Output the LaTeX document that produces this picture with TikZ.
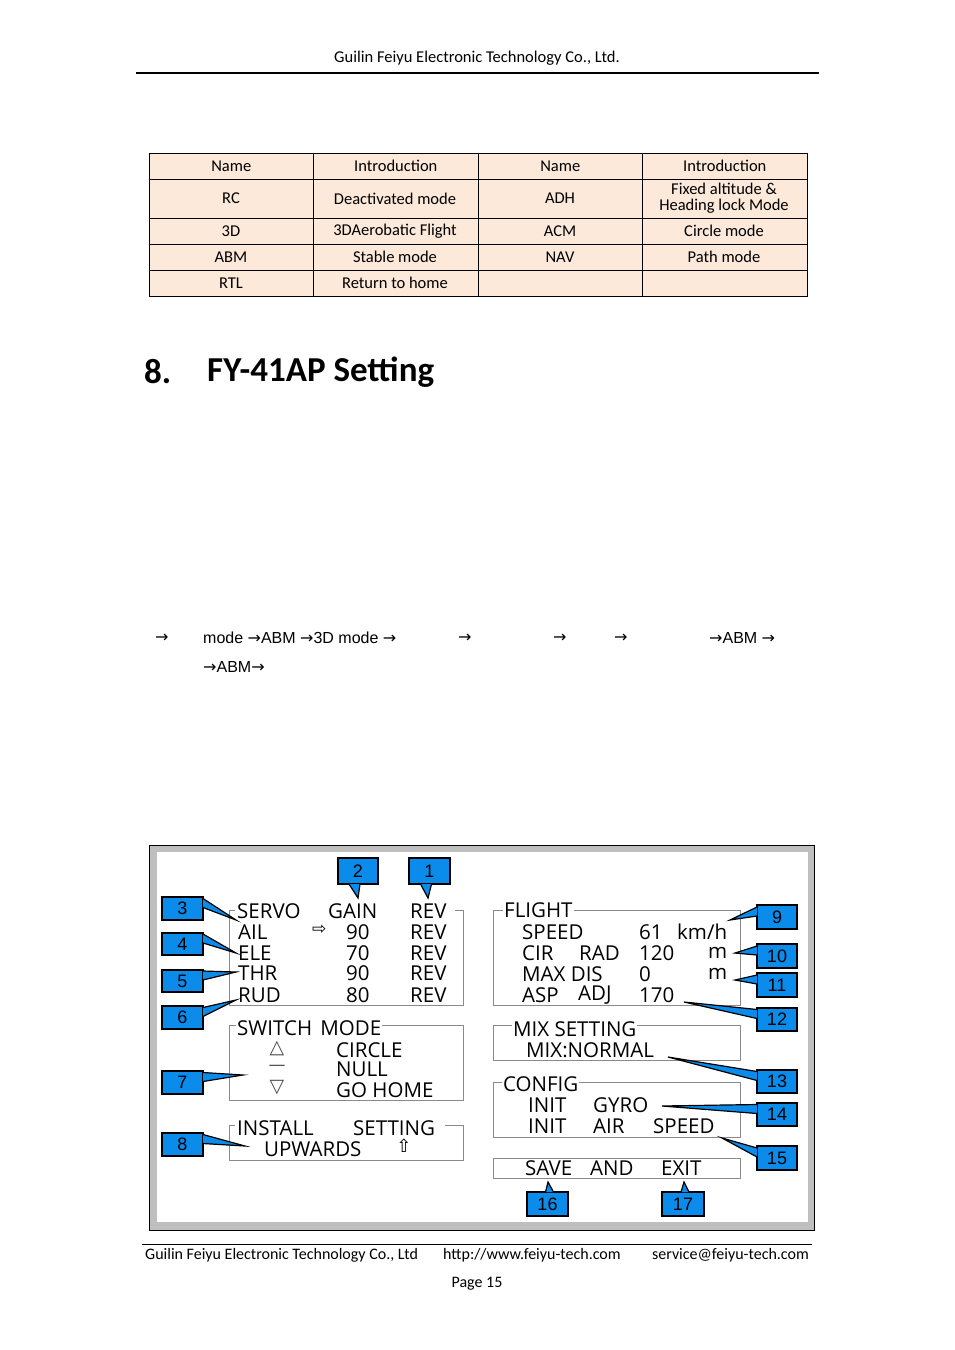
\documentclass[tikz,border=0pt]{standalone}
\usepackage{fontspec}
\setmainfont{Carlito}
\newfontfamily\lcdfont{Open Sans}
\newfontfamily\numfont{Liberation Sans}
\newfontfamily\symfont{DejaVu Sans}
\usetikzlibrary{calc}
\definecolor{peach}{HTML}{FCE9DA}
\definecolor{tagblue}{HTML}{0B8BEA}
\definecolor{framegray}{HTML}{8A8A8A}
\tikzstyle{none}=[inner sep=0pt]
\tikzstyle{txt}=[inner sep=0pt,anchor=west,font=\fontsize{16.5}{18}\selectfont]
\tikzstyle{cell}=[inner sep=0pt,align=center,font=\fontsize{16.5}{16}\selectfont]
\tikzstyle{lcd}=[inner sep=0pt,anchor=west,font=\lcdfont\fontsize{20.5}{20}\selectfont]
\tikzstyle{title}=[lcd,fill=white,inner xsep=1pt]
\tikzstyle{tag}=[draw=black,line width=1.6pt,fill=tagblue,inner sep=0pt,font=\numfont\fontsize{18}{18}\selectfont]
\tikzstyle{group}=[draw=framegray,line width=1pt]
% callout: name, x1,y1, x2,y2 of box, label
\newcommand\callout[6]{%
  \node [style=tag,minimum width=#4-#2,minimum height=#5-#3] (#1) at ({(#2+#4)/2},{(#3+#5)/2}) {#6};}
\newcommand\tagwedge[4]{%
  \filldraw[fill=tagblue,draw=black,line width=1.2pt] ($(#1)+(#2)$) -- (#4) -- ($(#1)+(#3)$);}
\newcommand\ar{{\symfont →}}
\begin{document}
\begin{tikzpicture}[x=1pt,y=-1pt]
	\useasboundingbox (0,0) rectangle (954,1350);
	% header
	\node [style=txt,anchor=center] (head) at (477,58) {Guilin Feiyu Electronic Technology Co., Ltd.};
	\draw[line width=1.6pt] (136,73) -- (819,73);
	% mode table
	\fill[peach] (149,153) rectangle (807,296);
	\draw[line width=0.8pt] (149,153) rectangle (807,296);
	\foreach \y in {179,218,244,270} \draw[line width=0.8pt] (149,\y) -- (807,\y);
	\foreach \x in {313,478,642} \draw[line width=0.8pt] (\x,153) -- (\x,296);
	\foreach \t [count=\i] in {Name,Introduction,Name,Introduction}
		\node [style=cell] (h\i) at ({149+164.5*(\i-0.5)},166) {\t};
	\node [style=cell] (c11) at (231,198.5) {RC};
	\node [style=cell] (c12) at (395,198.5) {Deactivated mode};
	\node [style=cell] (c13) at (560,198.5) {ADH};
	\node [style=cell] (c14) at (724,198.5) {Fixed altitude \&\\Heading lock Mode};
	\node [style=cell] (c21) at (231,231) {3D};
	\node [style=cell] (c22) at (395,231) {3DAerobatic Flight};
	\node [style=cell] (c23) at (560,231) {ACM};
	\node [style=cell] (c24) at (724,231) {Circle mode};
	\node [style=cell] (c31) at (231,257) {ABM};
	\node [style=cell] (c32) at (395,257) {Stable mode};
	\node [style=cell] (c33) at (560,257) {NAV};
	\node [style=cell] (c34) at (724,257) {Path mode};
	\node [style=cell] (c41) at (231,283) {RTL};
	\node [style=cell] (c42) at (395,283) {Return to home};
	% section title
	\node [style=txt,font=\bfseries\fontsize{35}{36}\selectfont] (secno) at (144,372) {8.};
	\node [style=txt,font=\bfseries\fontsize{35}{36}\selectfont] (sec) at (207,372) {FY-41AP Setting};
	% mode sequence line
	\begin{scope}[every node/.style={txt,font=\numfont\fontsize{16}{18}\selectfont}]
		\node (a1) at (155,638) {\ar};
		\node (a2) at (203,638) {mode \ar ABM \ar 3D mode \ar};
		\node (a3) at (458,638) {\ar};
		\node (a4) at (553,638) {\ar};
		\node (a5) at (614,638) {\ar};
		\node (a6) at (709,638) {\ar ABM \ar};
		\node (a7) at (203,667) {\ar ABM\ar};
	\end{scope}
	% LCD panel
	\filldraw[fill=black!25,draw=black,line width=0.8pt] (149,845) rectangle (814,1230);
	\fill[white] (157,852) rectangle (808,1222);
	\draw[group] (229,910) rectangle (463,1005);
	\draw[group] (229,1025) rectangle (463,1100);
	\draw[group] (229,1125) rectangle (463,1160);
	\draw[group] (493,910) rectangle (740,1005);
	\draw[group] (493,1025) rectangle (740,1060);
	\draw[group] (493,1082) rectangle (740,1137);
	\draw[group] (493,1158) rectangle (740,1178);
	\fill[white] (235,906) rectangle (455,914);
	\fill[white] (235,1121) rectangle (445,1129);
	% servo
	\node [style=title] (servo) at (236,911) {SERVO};
	\node [style=title] (gain) at (327,911) {GAIN};
	\node [style=title] (rev) at (409,911) {REV};
	\node [style=lcd] (ail) at (238,932) {AIL};
	\node [style=lcd] (ele) at (238,953) {ELE};
	\node [style=lcd] (thr) at (238,973) {THR};
	\node [style=lcd] (rud) at (238,995) {RUD};
	\node [style=lcd,font=\symfont\fontsize{17}{17}\selectfont] (ptr) at (312,930) {⇨};
	\foreach \v/\y [count=\i] in {90/932,70/953,90/973,80/995} {
		\node [style=lcd] (g\i) at (346,\y) {\v};
		\node [style=lcd] (r\i) at (410,\y) {REV};
	}
	% switch mode
	\node [style=title] (switch) at (236,1028) {SWITCH\hspace{0.4em}MODE};
	\node [style=lcd,anchor=center,font=\symfont\fontsize{19}{19}\selectfont,text=black!70] (up) at (277,1049) {△};
	\node [style=lcd,anchor=center,font=\symfont\fontsize{17}{17}\selectfont,text=black!70] (mid) at (277,1068) {—};
	\node [style=lcd,anchor=center,font=\symfont\fontsize{19}{19}\selectfont,text=black!70] (down) at (277,1088) {▽};
	\node [style=lcd] (circle) at (336,1050) {CIRCLE};
	\node [style=lcd] (null) at (336,1069) {NULL};
	\node [style=lcd] (gohome) at (336,1090) {GO HOME};
	% install
	\node [style=title] (install) at (236,1128) {INSTALL};
	\node [style=title] (setting) at (352,1128) {SETTING};
	\node [style=lcd] (upw) at (264,1149) {UPWARDS};
	\node [style=lcd,anchor=center,font=\symfont\fontsize{18}{18}\selectfont] (uparr) at (404,1146) {⇧};
	% flight
	\node [style=title] (flight) at (503,910) {FLIGHT};
	\node [style=lcd] (f1) at (522,932) {SPEED};
	\node [style=lcd] (f2) at (522,953) {CIR};
	\node [style=lcd] (f2b) at (579,953) {RAD};
	\node [style=lcd] (f3) at (522,974) {MAX DIS};
	\node [style=lcd] (f4) at (522,995) {ASP};
	\node [style=lcd] (f4b) at (578,995) {ADJ};
	\node [style=lcd] (v1) at (639,932) {61};
	\node [style=lcd] (v2) at (639,953) {120};
	\node [style=lcd] (v3) at (639,974) {0};
	\node [style=lcd] (v4) at (639,995) {170};
	\node [style=lcd] (u1) at (677,932) {km/h};
	\node [style=lcd] (u2) at (708,953) {m};
	\node [style=lcd] (u3) at (708,974) {m};
	% mix
	\node [style=title] (mix) at (512,1029) {MIX SETTING};
	\node [style=lcd] (mixn) at (526,1050) {MIX:NORMAL};
	% config
	\node [style=title] (config) at (502,1084) {CONFIG};
	\node [style=lcd] (i1) at (528,1105) {INIT};
	\node [style=lcd] (i1b) at (593,1105) {GYRO};
	\node [style=lcd] (i2) at (528,1126) {INIT};
	\node [style=lcd] (i2b) at (593,1126) {AIR};
	\node [style=lcd] (i2c) at (653,1126) {SPEED};
	% save
	\node [style=lcd] (save) at (525,1168) {SAVE};
	\node [style=lcd] (sand) at (590,1168) {AND};
	\node [style=lcd] (exit) at (661,1168) {EXIT};
	% tip points
	\coordinate (t1) at (428,898); \coordinate (t2) at (358,898);
	\coordinate (t3) at (236,920); \coordinate (t4) at (236,953);
	\coordinate (t5) at (236,972); \coordinate (t6) at (236,1000);
	\coordinate (t7) at (243,1075); \coordinate (t8) at (245,1146);
	\coordinate (t9) at (730,920); \coordinate (t10) at (735,953);
	\coordinate (t11) at (735,980); \coordinate (t12) at (684,1002);
	\coordinate (t13) at (668,1057); \coordinate (t14) at (662,1106);
	\coordinate (t15) at (722,1138); \coordinate (t16) at (548,1182);
	\coordinate (t17) at (684,1182);
	% callout boxes
	\callout{n1}{409}{858}{450}{884}{1}
	\callout{n2}{338}{858}{378}{884}{2}
	\callout{n3}{162}{897}{203}{920}{3}
	\callout{n4}{162}{933}{203}{955}{4}
	\callout{n5}{162}{970}{203}{992}{5}
	\callout{n6}{162}{1006}{203}{1029}{6}
	\callout{n7}{162}{1071}{203}{1094}{7}
	\callout{n8}{162}{1133}{203}{1156}{8}
	\callout{n9}{757}{905}{797}{929}{9}
	\callout{n10}{757}{944}{797}{968}{10}
	\callout{n11}{757}{973}{797}{997}{11}
	\callout{n12}{757}{1008}{797}{1031}{12}
	\callout{n13}{757}{1070}{797}{1093}{13}
	\callout{n14}{757}{1103}{797}{1126}{14}
	\callout{n15}{757}{1146}{797}{1170}{15}
	\callout{n16}{527}{1192}{568}{1216}{16}
	\callout{n17}{662}{1192}{704}{1216}{17}
	% wedges
	\tagwedge{n1.south}{-9,-0.8}{2,-0.8}{t1}
	\tagwedge{n2.south}{-9,-0.8}{2,-0.8}{t2}
	\foreach \i in {3,...,8} {\tagwedge{n\i.east}{-0.8,-10}{-0.8,-1}{t\i}}
	\foreach \i in {9,...,15} {\tagwedge{n\i.west}{0.8,-10}{0.8,-1}{t\i}}
	\tagwedge{n16.north}{-2,0.8}{6,0.8}{t16}
	\tagwedge{n17.north}{-2,0.8}{6,0.8}{t17}
	% footer
	\draw[line width=0.5pt] (142,1244) -- (812,1244);
	\node [style=txt,font=\fontsize{16}{18}\selectfont] (f-left) at (145,1255) {Guilin Feiyu Electronic Technology Co., Ltd};
	\node [style=txt,font=\fontsize{16}{18}\selectfont] (f-mid) at (443,1255) {http://www.feiyu-tech.com};
	\node [style=txt,anchor=east,font=\fontsize{16}{18}\selectfont] (f-right) at (809,1255) {service@feiyu-tech.com};
	\node [style=txt,anchor=center,font=\fontsize{16}{18}\selectfont] (page) at (477,1284) {Page 15};
\end{tikzpicture}
\end{document}
